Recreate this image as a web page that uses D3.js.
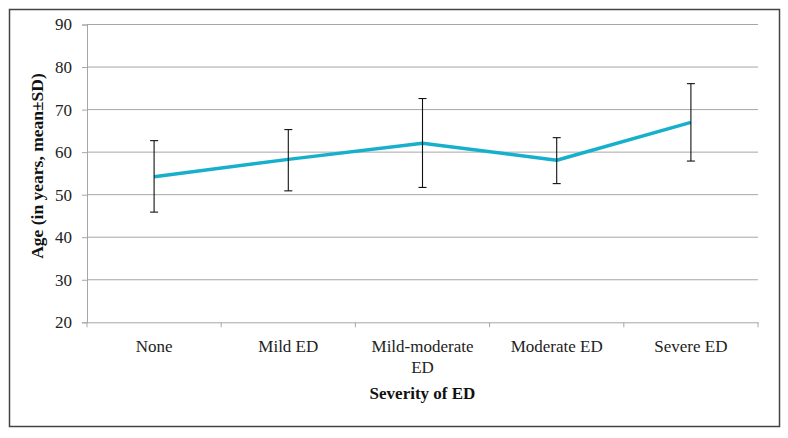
<!DOCTYPE html>
<html><head><meta charset="utf-8">
<script src="https://cdn.jsdelivr.net/npm/d3@7"></script>
<style>body{margin:0;background:#fff}svg{display:block}text{font-family:'Liberation Serif','Times New Roman',serif}</style>
</head><body>
<svg id="chart" width="788" height="438"></svg>
<script>
const categories = ["None", "Mild ED", "Mild-moderate ED", "Moderate ED", "Severe ED"];
const means = [54.2, 58.3, 62.1, 58.1, 67.0];
const sdUpper = [62.7, 65.3, 72.6, 63.4, 76.1];
const sdLower = [45.9, 50.9, 51.7, 52.6, 57.9];
const yTicks = [20, 30, 40, 50, 60, 70, 80, 90];

const svg = d3.select("#chart");
const font = "'Liberation Serif','Times New Roman',serif";
const L = 87, R = 758, T = 24.5, B = 322.3;

svg.append("rect").attr("x", 9.5).attr("y", 9.5).attr("width", 770).attr("height", 417)
  .attr("fill", "#fff").attr("stroke", "#444").attr("stroke-width", 1.5);

const x = d3.scaleBand().domain(categories).range([L, R]).padding(0);
const y = d3.scaleLinear().domain([20, 90]).range([B, T]);

// gridlines
svg.append("g").selectAll("line").data(yTicks.filter(d => d > 20)).join("line")
  .attr("x1", L).attr("x2", R).attr("y1", d => y(d)).attr("y2", d => y(d))
  .attr("stroke", "#a6a6a6").attr("stroke-width", 1);

// y axis
const yAxis = svg.append("g").attr("transform", `translate(${L},0)`)
  .call(d3.axisLeft(y).tickValues(yTicks).tickSize(5).tickPadding(10));
yAxis.attr("font-family", font).attr("font-size", 17);
yAxis.select(".domain").attr("stroke", "#a6a6a6");
yAxis.selectAll(".tick line").attr("stroke", "#a6a6a6");
yAxis.selectAll("text").style("font-family", font).attr("font-size", 17).attr("fill", "#222");

// x axis
const xAxis = svg.append("g").attr("transform", `translate(0,${B})`)
  .call(d3.axisBottom(x).tickSize(0).tickFormat(""));
xAxis.select(".domain").attr("stroke", "#a6a6a6");
const boundaries = categories.map(c => x(c)).concat([x(categories[categories.length-1]) + x.bandwidth()]);
xAxis.append("g").selectAll("line").data(boundaries).join("line")
  .attr("x1", d => d).attr("x2", d => d).attr("y1", 0).attr("y2", 5).attr("stroke", "#a6a6a6");

// x labels (wrapped)
const maxW = x.bandwidth() - 10;
const lbl = svg.append("g").attr("font-family", font).attr("font-size", 17).attr("fill", "#222").attr("text-anchor", "middle");
categories.forEach(c => {
  const t = lbl.append("text").attr("x", x(c) + x.bandwidth()/2).attr("y", 352);
  const words = c.split(" ");
  let line = [], tspan = t.append("tspan").attr("x", x(c) + x.bandwidth()/2).attr("dy", 0);
  words.forEach(w => {
    line.push(w);
    tspan.text(line.join(" "));
    if (tspan.node().getComputedTextLength() > maxW && line.length > 1) {
      line.pop(); tspan.text(line.join(" "));
      line = [w];
      tspan = t.append("tspan").attr("x", x(c) + x.bandwidth()/2).attr("dy", 21).text(w);
    }
  });
});

// axis titles
svg.append("text").attr("x", (L + R) / 2).attr("y", 399).attr("text-anchor", "middle")
  .attr("font-family", font).attr("font-size", 17).attr("font-weight", "bold").attr("fill", "#111")
  .text("Severity of ED");
svg.append("text").attr("transform", `translate(43,166) rotate(-90)`).attr("text-anchor", "middle")
  .attr("font-family", font).attr("font-size", 17.5).attr("font-weight", "bold").attr("fill", "#111")
  .text("Age (in years, mean±SD)");

const cx = i => x(categories[i]) + x.bandwidth() / 2;

// line
svg.append("path").datum(means)
  .attr("d", d3.line().x((d, i) => cx(i)).y(d => y(d)))
  .attr("fill", "none").attr("stroke", "#17b0cc").attr("stroke-width", 3.5).attr("stroke-linejoin", "round");

// error bars
const eb = svg.append("g").attr("stroke", "#111").attr("stroke-width", 1.1);
means.forEach((m, i) => {
  eb.append("line").attr("x1", cx(i)).attr("x2", cx(i)).attr("y1", y(sdUpper[i])).attr("y2", y(sdLower[i]));
  eb.append("line").attr("x1", cx(i) - 4).attr("x2", cx(i) + 4).attr("y1", y(sdUpper[i])).attr("y2", y(sdUpper[i]));
  eb.append("line").attr("x1", cx(i) - 4).attr("x2", cx(i) + 4).attr("y1", y(sdLower[i])).attr("y2", y(sdLower[i]));
});
</script>
</body></html>
